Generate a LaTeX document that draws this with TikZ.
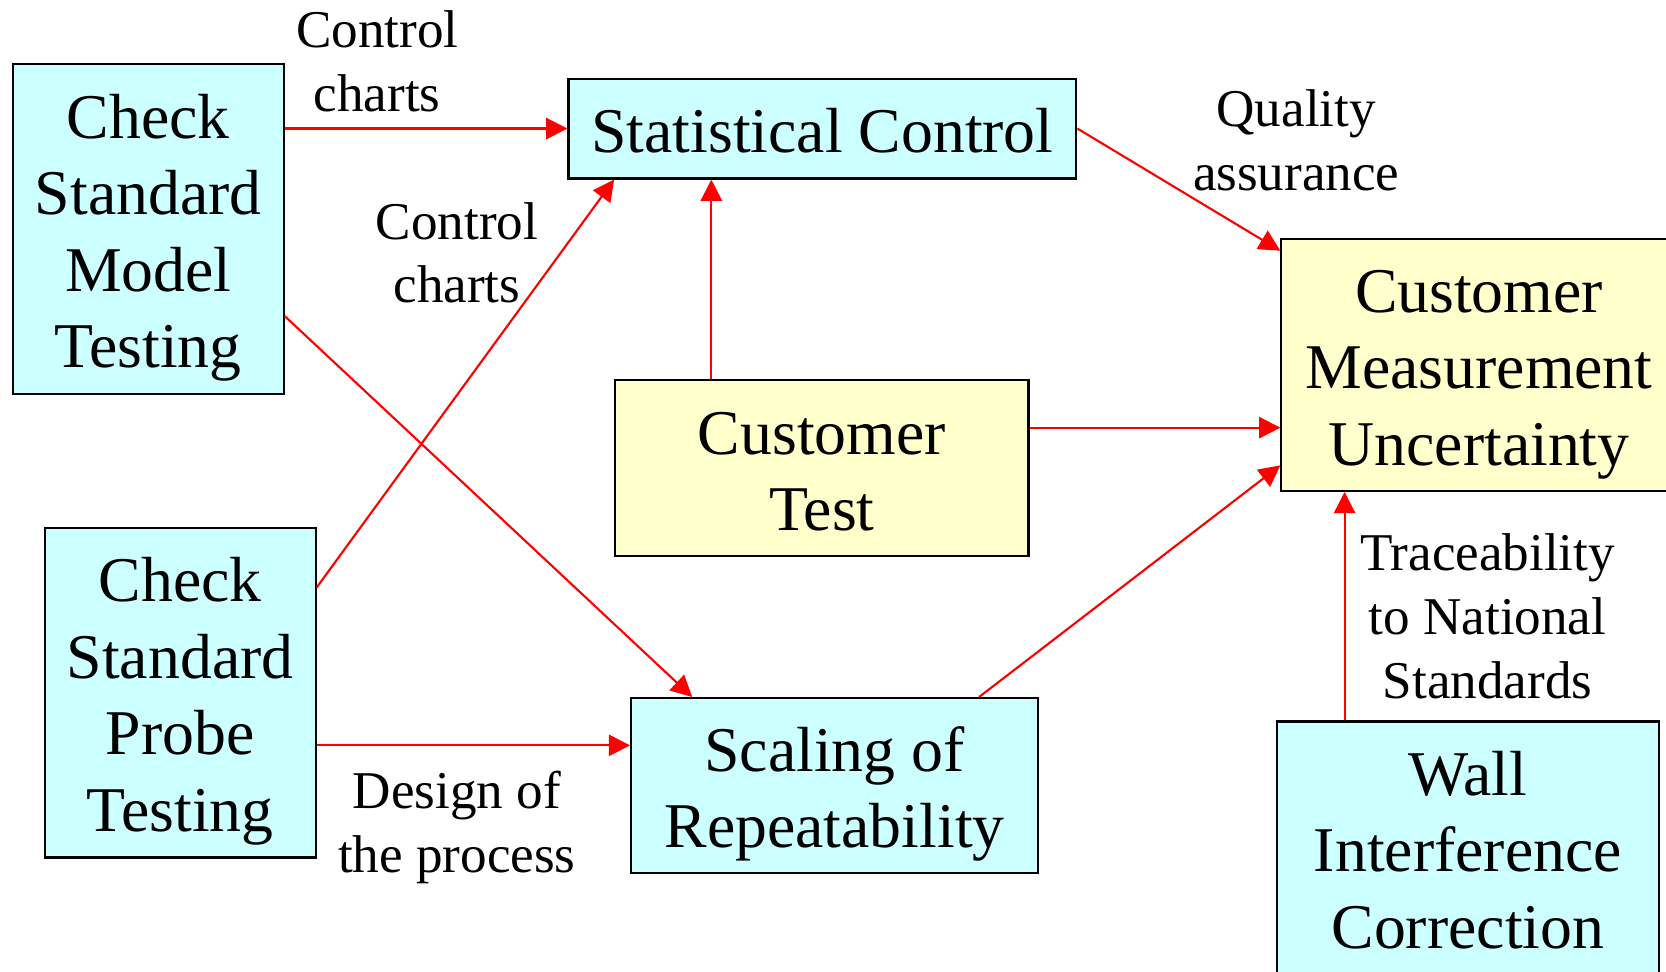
\documentclass[tikz,border=0pt]{standalone}
\usepackage{fontspec}
\setmainfont{Liberation Serif}
\usetikzlibrary{arrows.meta,calc}

\definecolor{boxcyan}{HTML}{CCFFFF}
\definecolor{boxyellow}{HTML}{FFFFCC}

% fixed first-line height and last-line depth, so text sits the same in every box
\newcommand{\tstr}{\rule{0pt}{29pt}}
\newcommand{\bstr}{\rule[-6pt]{0pt}{6pt}}

\tikzset{
  box/.style={draw=black, line width=1pt, inner sep=0pt, align=center,
    font=\fontsize{30}{36}\selectfont},
  cyanbox/.style={box, fill=boxcyan},
  yellowbox/.style={box, fill=boxyellow},
  flow/.style={draw=red, line width=1pt, -{Triangle[length=10pt,width=10pt]}},
  note/.style={align=center, font=\fontsize{25}{30}\selectfont}
}

\begin{document}
\begin{tikzpicture}[x=0.5pt,y=-0.5pt]
\useasboundingbox (0,0) rectangle (1568,914);

% boxes
\node[cyanbox, minimum width=127.5pt, minimum height=155.5pt] (csmt) at (139.5,215.5) {\tstr Check\\Standard\\Model\\Testing\bstr};
\node[cyanbox, minimum width=127.5pt, minimum height=155pt] (cspt) at (169.5,652) {\tstr Check\\Standard\\Probe\\Testing\bstr};
\node[cyanbox, minimum width=239pt, minimum height=47pt] (stat) at (774,121) {\tstr Statistical Control\bstr};
\node[yellowbox, minimum width=194.5pt, minimum height=82.5pt] (ctest) at (773.5,440.5) {\tstr Customer\\Test\bstr};
\node[cyanbox, minimum width=191.5pt, minimum height=82.5pt] (scal) at (785.5,739.5) {\tstr Scaling of\\Repeatability\bstr};
\node[yellowbox, minimum width=186pt, minimum height=118.5pt] (cmu) at (1392,343.5) {\tstr Customer\\Measurement\\Uncertainty\bstr};
\node[cyanbox, minimum width=179.5pt, minimum height=118.5pt] (wall) at (1381.5,797.5) {\tstr Wall\\Interference\\Correction\bstr};

% connectors
\draw[flow] (csmt.east |- stat.west) -- (stat.west);
\draw[flow] ([yshift=-41pt]csmt.east) -- ([xshift=-67pt]scal.north);
\draw[flow] ([yshift=49.5pt]cspt.east) -- ([xshift=-98pt]stat.south);
\coordinate (dp) at ([yshift=19pt]scal.west);
\draw[flow] (cspt.east |- dp) -- (dp);
\draw[flow] ([xshift=-52pt]ctest.north) coordinate (ct) -- (ct |- stat.south);
\draw[flow] ([yshift=19pt]ctest.east) coordinate (ce) -- (ce -| cmu.west);
\draw[flow] (stat.east) -- ([yshift=-6pt]cmu.north west);
\draw[flow] ([xshift=68pt]scal.north) -- ([yshift=12.5pt]cmu.south west);
\draw[flow] ([xshift=-58pt]wall.north) coordinate (wt) -- (wt |- cmu.south);

% labels
\node[note] (cc1) at (355,58) {Control\\charts};
\node[note] (cc2) at (430,238) {Control\\charts};
\node[note] (qa) at (1220,132) {Quality\\assurance};
\node[note] (tns) at (1400,580) {Traceability\\to National\\Standards};
\node[note] (dp-lab) at (430,779) {Design of\\the process};
\end{tikzpicture}
\end{document}
